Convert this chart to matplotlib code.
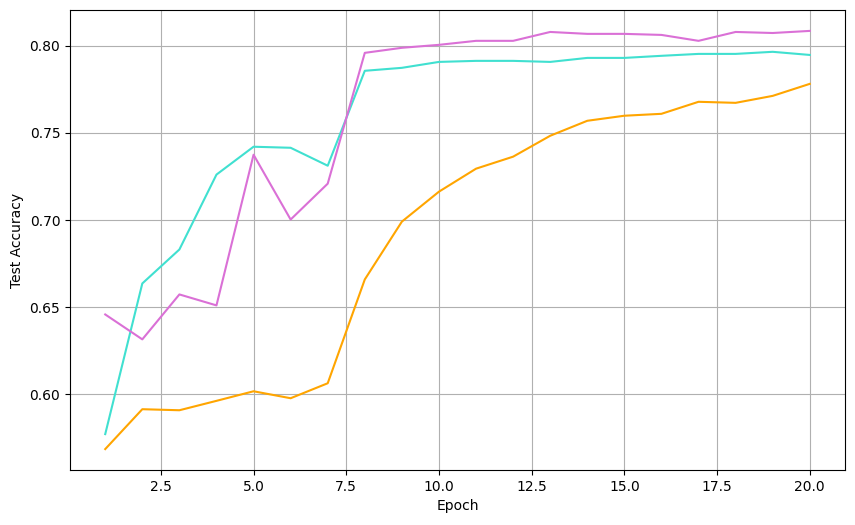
import matplotlib
matplotlib.use("Agg")
import matplotlib.pyplot as plt

epochs = list(range(1, 21))
acc_orange = [0.5685, 0.5914, 0.5908, 0.5962, 0.6017, 0.5977, 0.6063, 0.6659, 0.6991, 0.7163,
              0.7295, 0.7364, 0.7484, 0.7570, 0.7599, 0.7610, 0.7679, 0.7673, 0.7713, 0.7782]
acc_cyan = [0.5771, 0.6636, 0.6831, 0.7261, 0.7421, 0.7415, 0.7312, 0.7857, 0.7874, 0.7908,
            0.7914, 0.7914, 0.7908, 0.7931, 0.7931, 0.7943, 0.7954, 0.7954, 0.7966, 0.7948]
acc_orchid = [0.6458, 0.6315, 0.6573, 0.6510, 0.7375, 0.7003, 0.7209, 0.7960, 0.7989, 0.8006,
              0.8029, 0.8029, 0.8080, 0.8069, 0.8069, 0.8063, 0.8029, 0.8080, 0.8074, 0.8086]

fig = plt.figure(figsize=(8.55, 5.25), dpi=100)
ax = fig.add_axes([70/855, 55/525, 775/855, 460/525])
ax.plot(epochs, acc_orange, color="orange")
ax.plot(epochs, acc_cyan, color="turquoise")
ax.plot(epochs, acc_orchid, color="orchid")
ax.set_xlabel("Epoch")
ax.set_ylabel("Test Accuracy")
ax.grid(True)
fig.savefig("out.png", dpi=100)
